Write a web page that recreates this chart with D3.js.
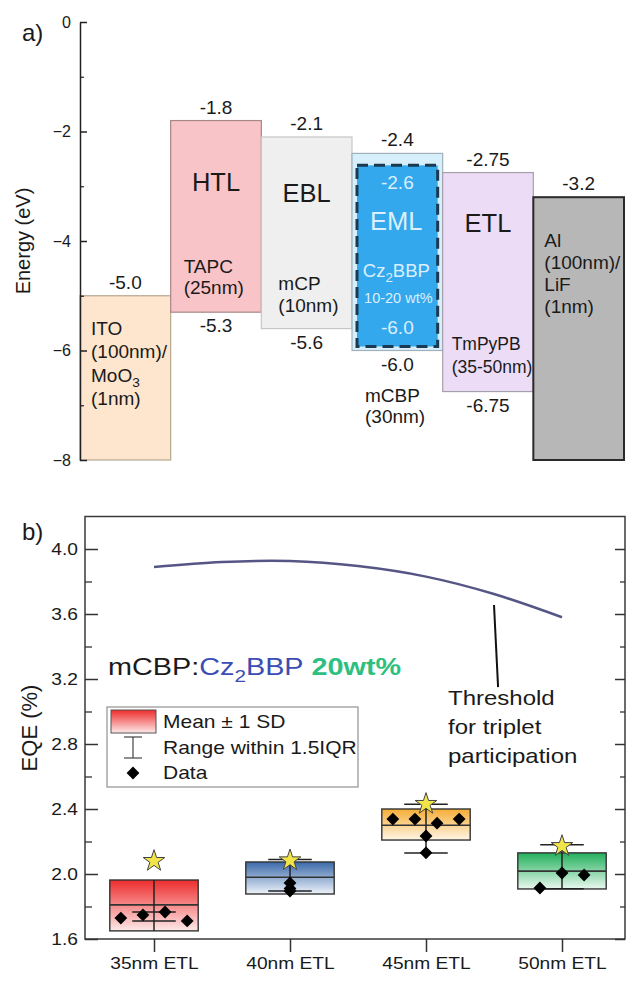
<!DOCTYPE html>
<html><head><meta charset="utf-8">
<script src="https://cdn.jsdelivr.net/npm/d3@7"></script>
<style>
body{margin:0;background:#fff;}
svg{display:block;font-family:"Liberation Sans",Arial,sans-serif;}
</style>
</head><body>
<svg id="c" width="626" height="983"></svg>
<script>
// ================= Panel a data =================
const layers = ["ITO", "HTL", "EBL", "EML", "ETL", "Al"];
const lumo = [-5.0, -1.8, -2.1, -2.4, -2.75, -3.2];
const homo = [-8.0, -5.3, -5.6, -6.0, -6.75, -8.0];
const homoShown = [false, true, true, true, true, false];
const roleLabels = ["", "HTL", "EBL", "EML", "ETL", ""];
const materialLines = [
  ["ITO", "(100nm)/", "MoO_3", "(1nm)"],
  ["TAPC", "(25nm)"],
  ["mCP", "(10nm)"],
  ["mCBP", "(30nm)"],
  ["TmPyPB", "(35-50nm)"],
  ["Al", "(100nm)/", "LiF", "(1nm)"]
];
const dopantLumo = -2.6;
const dopantHomo = -6.0;
const dopantLines = ["Cz_2BBP", "10-20 wt%"];
const energyTicks = [0, -2, -4, -6, -8];
const energyMinor = [-1, -3, -5, -7];

// ================= Panel b data =================
const etlCats = ["35nm ETL", "40nm ETL", "45nm ETL", "50nm ETL"];
const etlNm = [35, 40, 45, 50];
const boxLow = [1.65, 1.877, 2.209, 1.908];
const boxHigh = [1.963, 2.074, 2.40, 2.13];
const meanEQE = [1.81, 1.98, 2.30, 2.018];
const capLow = [1.711, 1.895, 2.13, 1.91];
const capHigh = [1.766, 2.09, 2.43, 2.18];
const dataEQE = [
  [1.729, 1.748, 1.766, 1.711],
  [1.945, 1.91, 1.895],
  [2.338, 2.338, 2.313, 2.338, 2.234, 2.13],
  [1.914, 2.006, 1.994]
];
const bestEQE = [2.086, 2.09, 2.437, 2.178];
const thresholdNm = [35, 37.5, 40, 42.5, 45, 47.5, 50];
const thresholdEQE = [3.889, 3.92, 3.926, 3.895, 3.83, 3.723, 3.58];
const eqeTicks = [1.6, 2.0, 2.4, 2.8, 3.2, 3.6, 4.0];
const eqeMinor = [1.8, 2.2, 2.6, 3.0, 3.4, 3.8];
const annotNm = [47.5, 47.65];
const annotEQE = [3.655, 3.15];

// ================= layout / style (not data) =================
const dataJitter = [
  [-0.75, -0.25, 0.25, 0.75],
  [0, 0, 0],
  [-0.75, -0.25, 0.25, 0.75, 0, 0],
  [-0.5, 0, 0.5]
];
const fills = {ITO:"#fde6cd", HTL:"#f9c4c7", EBL:"#efefef", EML:"#d7effb", ETL:"#ecdcf6", Al:"#b7b7b7"};
const strokes = {ITO:"#b8a790", HTL:"#a88787", EBL:"#c6c6c6", EML:"#9fb0bb", ETL:"#a6a0ab", Al:"#2a2a2a"};
const boxColors = [["#ee2c2c", "#fde9e9"], ["#3a69a9", "#eef3fa"], ["#f5ad35", "#fef5e6"], ["#22b05b", "#eaf8ef"]];

const svg = d3.select("#c");
const defs = svg.append("defs");
const ink = "#1a1a1a";

function rich(t, str, fs) {
  const parts = str.split(/(_\w)/);
  let shifted = false;
  parts.forEach(p => {
    if (!p) return;
    if (p[0] === "_") {
      t.append("tspan").attr("dy", fs * 0.28).attr("font-size", fs * 0.72).text(p.slice(1));
      shifted = true;
    } else {
      const ts = t.append("tspan").text(p);
      if (shifted) { ts.attr("dy", -fs * 0.28); shifted = false; }
    }
  });
  return t;
}
const fmtE = v => Math.abs(v * 10 - Math.round(v * 10)) < 1e-6 ? v.toFixed(1) : v.toFixed(2);

// ================= Panel a =================
const A = svg.append("g");
const yE = d3.scaleLinear().domain([-8, 0]).range([460, 22]);
const xL = d3.scaleBand().domain(layers).range([80, 624]).padding(0);
const bw = xL.bandwidth();

A.selectAll("rect.layer").data(layers).join("rect")
  .attr("class", "layer")
  .attr("x", d => xL(d)).attr("width", bw)
  .attr("y", (d, i) => yE(lumo[i]))
  .attr("height", (d, i) => yE(homo[i]) - yE(lumo[i]))
  .attr("fill", d => fills[d]).attr("stroke", d => strokes[d])
  .attr("stroke-width", d => d === "Al" ? 2 : 1.2);

// dopant (emitter) box inside EML
const ex0 = xL("EML");
A.append("rect")
  .attr("x", ex0 + 5).attr("width", bw - 10)
  .attr("y", yE(dopantLumo) + 1)
  .attr("height", yE(dopantHomo) - 4 - (yE(dopantLumo) + 1))
  .attr("fill", "#33a8ec").attr("stroke", "#1b3a52")
  .attr("stroke-width", 3).attr("stroke-dasharray", "11,6");

// value labels
A.selectAll("text.lumo").data(layers).join("text")
  .attr("x", d => xL(d) + bw / 2).attr("y", (d, i) => yE(lumo[i]) - 7)
  .attr("text-anchor", "middle").attr("font-size", 19).attr("fill", ink)
  .text((d, i) => fmtE(lumo[i]));
A.selectAll("text.homo").data(layers.filter((d, i) => homoShown[i])).join("text")
  .attr("x", d => xL(d) + bw / 2).attr("y", d => yE(homo[layers.indexOf(d)]) + 20)
  .attr("text-anchor", "middle").attr("font-size", 19).attr("fill", ink)
  .text(d => fmtE(homo[layers.indexOf(d)]));

// role labels
const roleOffset = {HTL: 70.5, EBL: 65, ETL: 59.5};
layers.forEach((d, i) => {
  if (!roleLabels[i] || d === "EML") return;
  A.append("text").attr("x", xL(d) + bw / 2).attr("y", yE(lumo[i]) + roleOffset[d])
    .attr("text-anchor", "middle").attr("font-size", 25.5).attr("fill", ink).text(roleLabels[i]);
});

// dopant texts
const dcx = ex0 + bw / 2, dTop = yE(dopantLumo);
const lightTxt = "#dcefff";
A.append("text").attr("x", dcx).attr("y", dTop + 24.6).attr("text-anchor", "middle")
  .attr("font-size", 19).attr("fill", lightTxt).text(fmtE(dopantLumo));
A.append("text").attr("x", dcx - 1).attr("y", dTop + 65.6).attr("text-anchor", "middle")
  .attr("font-size", 25.5).attr("fill", lightTxt).text(roleLabels[3]);
rich(A.append("text").attr("x", dcx - 1).attr("y", dTop + 112.6).attr("text-anchor", "middle")
  .attr("font-size", 18.5).attr("fill", lightTxt), dopantLines[0], 18.5);
A.append("text").attr("x", dcx + 1).attr("y", dTop + 138.6).attr("text-anchor", "middle")
  .attr("font-size", 14.5).attr("fill", lightTxt).text(dopantLines[1]);
A.append("text").attr("x", dcx).attr("y", yE(dopantHomo) - 16.5).attr("text-anchor", "middle")
  .attr("font-size", 19).attr("fill", lightTxt).text(fmtE(dopantHomo));

// material texts
const matLayout = {
  ITO: {dx: 11, y0: i => yE(lumo[i]) + 39, lh: 23.5, fs: 19},
  HTL: {dx: 13, y0: i => yE(homo[i]) - 39, lh: 20.5, fs: 19},
  EBL: {dx: 17, y0: i => yE(homo[i]) - 39, lh: 22, fs: 19},
  EML: {dx: 13, y0: i => yE(homo[i]) + 51.5, lh: 20.5, fs: 19},
  ETL: {dx: 9, y0: i => yE(homo[i]) - 42, lh: 23, fs: 17.5},
  Al: {dx: 11, y0: i => yE(lumo[i]) + 50, lh: 22, fs: 19}
};
layers.forEach((d, i) => {
  const L = matLayout[d];
  materialLines[i].forEach((s, k) => {
    rich(A.append("text").attr("x", xL(d) + L.dx).attr("y", L.y0(i) + k * L.lh)
      .attr("font-size", L.fs).attr("fill", ink), s, L.fs);
  });
});

// axis
const axA = A.append("g").attr("transform", "translate(80,0)")
  .call(d3.axisLeft(yE).tickValues(energyTicks).tickSizeInner(-7).tickSizeOuter(0)
    .tickPadding(9).tickFormat(d3.format("d")));
axA.select(".domain").attr("stroke", "#222").attr("stroke-width", 1.5);
axA.selectAll(".tick line").attr("stroke", "#222").attr("stroke-width", 1.5);
axA.selectAll(".tick text").attr("font-size", 16).attr("fill", ink).attr("font-family", null);
const axAm = A.append("g").attr("transform", "translate(80,0)")
  .call(d3.axisLeft(yE).tickValues(energyMinor).tickSizeInner(-4).tickSizeOuter(0).tickFormat(""));
axAm.select(".domain").remove();
axAm.selectAll(".tick line").attr("stroke", "#222").attr("stroke-width", 1.2);

A.append("text").attr("transform", `translate(30,${yE(-4)}) rotate(-90)`)
  .attr("text-anchor", "middle").attr("font-size", 20).attr("fill", ink).text("Energy (eV)");
A.append("text").attr("x", 22).attr("y", 41).attr("font-size", 24).attr("fill", ink).text("a)");

// ================= Panel b =================
const B = svg.append("g");
const SX = 1.2;
const yQ = d3.scaleLinear().domain([1.6, 4.2]).range([939, 516.5]);
const xC = d3.scalePoint().domain(etlCats).range([86, 630]).padding(0.5);
const xNm = d3.scaleLinear().domain([etlNm[0], etlNm[3]]).range([xC(etlCats[0]), xC(etlCats[3])]);
const frameL = 85, frameR = 625;

function stxt(g, x, y, fs) {
  return g.append("text").attr("transform", `translate(${x},${y}) scale(${SX},1)`)
    .attr("font-size", fs).attr("fill", ink);
}

// gradients
boxColors.forEach((c, i) => {
  const lg = defs.append("linearGradient").attr("id", "g" + i)
    .attr("x1", 0).attr("y1", 0).attr("x2", 0).attr("y2", 1);
  lg.append("stop").attr("offset", "0").attr("stop-color", c[0]);
  lg.append("stop").attr("offset", "1").attr("stop-color", c[1]);
});

// frame
B.append("rect").attr("x", frameL).attr("y", yQ(4.2)).attr("width", frameR - frameL)
  .attr("height", yQ(1.6) - yQ(4.2)).attr("fill", "none").attr("stroke", "#3a3a3a").attr("stroke-width", 1.5);

// left axis
const axL = B.append("g").attr("transform", `translate(${frameL},0)`)
  .call(d3.axisLeft(yQ).tickValues(eqeTicks).tickSizeInner(-13).tickSizeOuter(0)
    .tickPadding(7).tickFormat(d3.format(".1f")));
axL.select(".domain").remove();
axL.selectAll(".tick line").attr("stroke", "#333").attr("stroke-width", 1.5);
axL.selectAll(".tick text").attr("font-size", 16).attr("fill", ink).attr("font-family", null)
  .attr("x", -7 / SX).attr("transform", `scale(${SX},1)`);
const axLm = B.append("g").attr("transform", `translate(${frameL},0)`)
  .call(d3.axisLeft(yQ).tickValues(eqeMinor).tickSizeInner(-7).tickSizeOuter(0).tickFormat(""));
axLm.select(".domain").remove();
axLm.selectAll(".tick line").attr("stroke", "#333").attr("stroke-width", 1.3);
// right axis
const axR = B.append("g").attr("transform", `translate(${frameR},0)`)
  .call(d3.axisRight(yQ).tickValues(eqeTicks).tickSizeInner(-10).tickSizeOuter(0).tickFormat(""));
axR.select(".domain").remove();
axR.selectAll(".tick line").attr("stroke", "#333").attr("stroke-width", 1.5);
const axRm = B.append("g").attr("transform", `translate(${frameR},0)`)
  .call(d3.axisRight(yQ).tickValues(eqeMinor).tickSizeInner(-5).tickSizeOuter(0).tickFormat(""));
axRm.select(".domain").remove();
axRm.selectAll(".tick line").attr("stroke", "#333").attr("stroke-width", 1.3);
// bottom axis
const axB = B.append("g").attr("transform", `translate(0,${yQ(1.6)})`)
  .call(d3.axisBottom(xC).tickSizeInner(13).tickSizeOuter(0).tickPadding(6));
axB.select(".domain").remove();
axB.selectAll(".tick line").attr("stroke", "#333").attr("stroke-width", 1.5);
axB.selectAll(".tick text").attr("font-size", 16).attr("fill", ink).attr("font-family", null)
  .attr("transform", `scale(${SX},1)`);

// threshold curve
B.append("path")
  .datum(thresholdNm.map((n, i) => [xNm(n), yQ(thresholdEQE[i])]))
  .attr("d", d3.line().curve(d3.curveCatmullRom))
  .attr("fill", "none").attr("stroke", "#565686").attr("stroke-width", 2.5);
B.append("line")
  .attr("x1", xNm(annotNm[0])).attr("y1", yQ(annotEQE[0]))
  .attr("x2", xNm(annotNm[1])).attr("y2", yQ(annotEQE[1]))
  .attr("stroke", "#111").attr("stroke-width", 2);
["Threshold", "for triplet", "participation"].forEach((s, k) => {
  stxt(B, 448, 705 + k * 29, 20).text(s);
});

// title
const title = stxt(B, 108, 675, 24);
title.append("tspan").text("mCBP:");
rich(title.append("tspan").attr("fill", "#3b4db3"), "Cz_2BBP", 24);
title.append("tspan").text(" ");
title.append("tspan").attr("fill", "#2dbf7f").attr("font-weight", "bold").text("20wt%");

// boxes
const hw = xC.step() * 0.325;
const gBox = B.selectAll("g.box").data(etlCats).join("g").attr("class", "box");
gBox.append("rect")
  .attr("x", d => xC(d) - hw).attr("width", hw * 2)
  .attr("y", (d, i) => yQ(boxHigh[i])).attr("height", (d, i) => yQ(boxLow[i]) - yQ(boxHigh[i]))
  .attr("fill", (d, i) => `url(#g${i})`).attr("stroke", "#333").attr("stroke-width", 1.4);
gBox.append("line")
  .attr("x1", d => xC(d) - hw).attr("x2", d => xC(d) + hw)
  .attr("y1", (d, i) => yQ(meanEQE[i])).attr("y2", (d, i) => yQ(meanEQE[i]))
  .attr("stroke", "#333").attr("stroke-width", 1.6);
gBox.append("line")
  .attr("x1", d => xC(d)).attr("x2", d => xC(d))
  .attr("y1", (d, i) => yQ(Math.max(capHigh[i], boxHigh[i])))
  .attr("y2", (d, i) => yQ(Math.min(capLow[i], boxLow[i])))
  .attr("stroke", "#222").attr("stroke-width", 1.5);
const capHalf = xC.step() * 0.16;
[capLow, capHigh].forEach(arr => {
  gBox.append("line")
    .attr("x1", d => xC(d) - capHalf).attr("x2", d => xC(d) + capHalf)
    .attr("y1", (d, i) => yQ(arr[i])).attr("y2", (d, i) => yQ(arr[i]))
    .attr("stroke", "#222").attr("stroke-width", 1.5);
});
// data points
const diamond = d3.symbol(d3.symbolSquare, 82)();
etlCats.forEach((c, i) => {
  B.selectAll(null).data(dataEQE[i]).join("path")
    .attr("d", diamond)
    .attr("transform", (v, k) => `translate(${xC(c) + dataJitter[i][k] * hw},${yQ(v)}) rotate(45)`)
    .attr("fill", "#000");
});
// stars
const star = d3.symbol(d3.symbolStar, 145)();
B.selectAll("path.star").data(etlCats).join("path").attr("class", "star")
  .attr("d", star)
  .attr("transform", (d, i) => `translate(${xC(d)},${yQ(bestEQE[i]) + 1})`)
  .attr("fill", "#f1e44a").attr("stroke", "#444").attr("stroke-width", 1);

// legend
const lg = B.append("g");
lg.append("rect").attr("x", 107).attr("y", 707).attr("width", 251).attr("height", 80)
  .attr("fill", "#fff").attr("stroke", "#9a9a9a").attr("stroke-width", 1.3);
lg.append("rect").attr("x", 111).attr("y", 710).attr("width", 45).attr("height", 23)
  .attr("fill", "url(#g0)").attr("stroke", "#555").attr("stroke-width", 1);
lg.append("line").attr("x1", 133).attr("x2", 133).attr("y1", 737).attr("y2", 758)
  .attr("stroke", "#444").attr("stroke-width", 1.2);
[737, 758].forEach(y => lg.append("line").attr("x1", 124).attr("x2", 142).attr("y1", y).attr("y2", y)
  .attr("stroke", "#444").attr("stroke-width", 1.2));
lg.append("path").attr("d", diamond).attr("transform", "translate(133,773) rotate(45)").attr("fill", "#000");
["Mean \u00b1 1 SD", "Range within 1.5IQR", "Data"].forEach((s, k) => {
  stxt(lg, 163, 728 + k * 25.5, 17.5).text(s);
});

B.append("text").attr("transform", `translate(37,${yQ(2.8) - 16}) rotate(-90)`)
  .attr("text-anchor", "middle").attr("font-size", 22).attr("fill", ink).text("EQE (%)");
B.append("text").attr("x", 22).attr("y", 540).attr("font-size", 24).attr("fill", ink).text("b)");
</script>
</body></html>
